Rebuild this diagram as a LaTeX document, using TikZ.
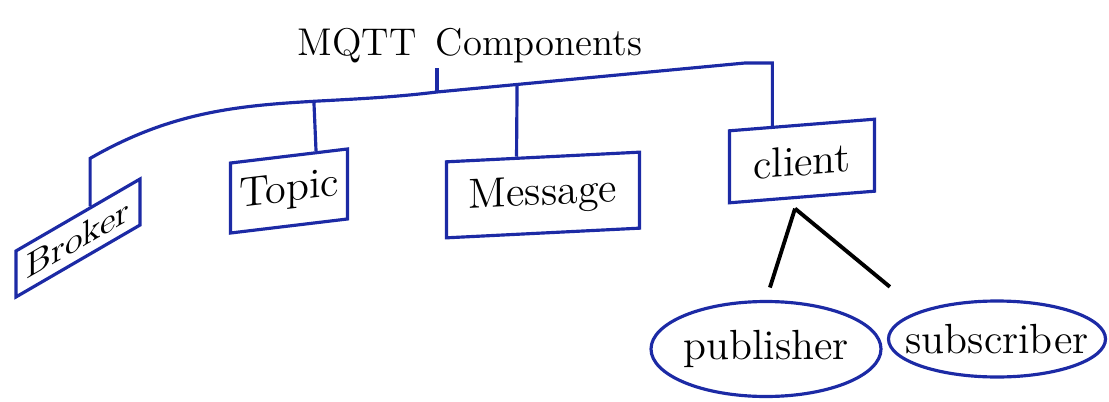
\documentclass[tikz,border=0pt]{standalone}
\usepackage{tikz}
\usetikzlibrary{shapes.geometric,calc}
\definecolor{ink}{RGB}{28,42,165}

\begin{document}
\begin{tikzpicture}[
    box/.style={draw=ink, line width=0.9pt, inner sep=0pt, font=\large},
    oval/.style={draw=ink, line width=0.9pt, ellipse, inner xsep=-6pt, inner ysep=0pt, font=\large},
    link/.style={draw=ink, line width=0.9pt},
    split/.style={draw=black, line width=1.1pt}]
    \useasboundingbox (0,0) rectangle (11.09,4.01);

    % Titulo
    \node (title) at (4.70,3.55) {\fontsize{11}{13}\selectfont MQTT\enspace Components};

    % Componentes
    \node[box, font=\normalsize, yslant=0.58, minimum width=1.24cm, minimum height=0.46cm] (broker) at (0.78,1.63) {Broker};
    \node[box, yslant=0.12, minimum width=1.17cm, minimum height=0.70cm] (topic) at (2.89,2.10) {Topic};
    \node[box, yslant=0.05, minimum width=1.93cm, minimum height=0.76cm] (message) at (5.43,2.06) {Message};
    \node[box, yslant=0.08, minimum width=1.45cm, minimum height=0.72cm] (client) at (8.02,2.40) {client};

    % Tipos de cliente
    \node[oval, minimum width=2.30cm, minimum height=0.95cm] (publisher) at (7.66,0.52) {publisher};
    \node[oval, minimum width=2.17cm, minimum height=0.76cm] (subscriber) at (9.97,0.62) {subscriber};

    % Puntos de union
    \coordinate (bk) at ($(broker.north)!0.19!(broker.north east)$);
    \coordinate (b1) at ($(bk)+(0,0.48)$);
    \coordinate (b3) at (4.37,3.09);
    \coordinate (b5) at (7.45,3.38);
    \coordinate (tp) at ($(topic.north)!0.45!(topic.north east)$);
    \coordinate (mp) at ($(message.north)!0.27!(message.north west)$);
    \coordinate (cl) at ($(client.north west)!0.6!(client.north)$);
    \coordinate (apex) at ($(client.south)+(-0.07,-0.1)$);

    % Linea principal
    \draw[link] (bk) -- (b1) to[out=30,in=187] coordinate[pos=0.67] (jt) (b3)
        -- coordinate[pos=0.26] (jm) (b5) -| (cl);
    \draw[link] (b3) -- ($(b3)+(0,0.24)$);
    \draw[link] (jt) -- (tp);
    \draw[link] (jm) -- (mp);

    % Cliente
    \draw[split, shorten >=0.13cm] (apex) -- (publisher.north);
    \draw[split, shorten >=0.38cm] (apex) -- (subscriber.north west);
\end{tikzpicture}
\end{document}
